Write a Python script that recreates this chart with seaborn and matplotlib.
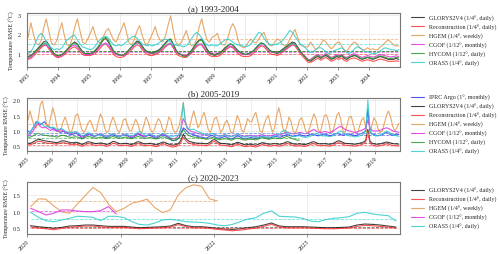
import numpy as np
import pandas as pd
import matplotlib
matplotlib.use("Agg")
import matplotlib.pyplot as plt
import matplotlib.dates as mdates
import seaborn as sns

# ---- (a) 1993-2004, monthly RMSE ----
hgem_a = [1.85, 2.6, 2.05, 1.55, 1.45, 1.65, 2.3, 2.8, 2.15, 1.55, 1.45, 1.65,
          2.15, 2.6, 1.95, 1.45, 1.4, 1.75, 2.35, 2.8, 2.2, 1.6, 1.5, 1.75,
          2.05, 2.4, 1.95, 1.6, 1.55, 1.85, 2.15, 2.3, 2.0, 1.7, 1.6, 1.95,
          2.25, 2.6, 2.1, 1.55, 1.45, 1.75, 2.15, 2.45, 1.95, 1.55, 1.45, 1.75,
          2.05, 2.4, 1.95, 1.7, 1.6, 1.9, 2.45, 2.95, 2.2, 1.6, 1.45, 1.55,
          1.85, 2.2, 1.75, 1.4, 1.4, 1.75, 2.35, 2.8, 2.2, 1.7, 1.6, 1.85,
          1.9, 2.05, 1.65, 1.45, 1.45, 1.75, 2.25, 2.55, 2.3, 1.7, 1.4, 1.3,
          1.35, 1.6, 1.75, 1.6, 1.55, 1.75, 1.95, 2.1, 1.75, 1.45, 1.4, 1.55,
          1.75, 1.7, 1.5, 1.4, 1.45, 1.75, 2.0, 2.25, 1.85, 1.45, 1.4, 1.35,
          1.35, 1.6, 1.4, 1.2, 1.3, 1.5, 1.7, 1.6, 1.4, 1.25, 1.35, 1.55,
          1.6, 1.4, 1.2, 1.1, 1.3, 1.5, 1.6, 1.5, 1.3, 1.2, 1.2, 1.3,
          1.2, 1.25, 1.2, 1.2, 1.35, 1.45, 1.6, 1.7, 1.6, 1.45, 1.4, 1.4]
oras5_a = [1.0, 1.1, 1.3, 1.6, 1.9, 2.05, 1.9, 1.6, 1.4, 1.3, 1.2, 1.25,
           1.2, 1.3, 1.5, 1.7, 1.8, 1.9, 1.95, 1.7, 1.5, 1.35, 1.3, 1.25,
           1.2, 1.25, 1.4, 1.6, 1.75, 1.85, 1.9, 1.8, 1.6, 1.45, 1.4, 1.45,
           1.4, 1.5, 1.6, 1.75, 1.85, 1.9, 1.8, 1.65, 1.5, 1.45, 1.4, 1.45,
           1.4, 1.45, 1.5, 1.6, 1.7, 1.75, 1.7, 1.6, 1.5, 1.45, 1.4, 1.4,
           1.35, 1.4, 1.55, 1.75, 1.95, 2.1, 2.0, 1.8, 1.6, 1.45, 1.4, 1.45,
           1.4, 1.4, 1.5, 1.6, 1.7, 1.75, 1.7, 1.6, 1.5, 1.45, 1.4, 1.4,
           1.35, 1.4, 1.5, 1.7, 1.9, 2.1, 2.05, 1.8, 1.6, 1.5, 1.45, 1.45,
           1.5, 1.55, 1.65, 1.8, 2.0, 2.2, 2.1, 1.9, 1.7, 1.5, 1.4, 1.3,
           1.15, 1.05, 1.1, 1.2, 1.3, 1.3, 1.2, 1.1, 1.0, 1.05, 1.15, 1.2,
           1.25, 1.3, 1.2, 1.05, 1.0, 1.1, 1.25, 1.35, 1.3, 1.2, 1.1, 1.1,
           1.05, 1.0, 1.0, 1.05, 1.15, 1.25, 1.3, 1.25, 1.2, 1.2, 1.15, 1.2]
glorys_a = [0.85, 0.9, 1.0, 1.15, 1.3, 1.45, 1.6, 1.65, 1.45, 1.2, 1.0, 0.9,
            0.9, 0.95, 1.05, 1.2, 1.35, 1.5, 1.6, 1.5, 1.3, 1.1, 1.0, 1.0,
            1.0, 1.05, 1.15, 1.3, 1.5, 1.7, 1.78, 1.6, 1.35, 1.1, 1.0, 0.95,
            0.9, 0.95, 1.05, 1.2, 1.35, 1.5, 1.65, 1.6, 1.4, 1.2, 1.1, 1.05,
            1.05, 1.1, 1.15, 1.25, 1.4, 1.55, 1.7, 1.75, 1.5, 1.2, 1.0, 0.95,
            0.9, 0.9, 1.0, 1.15, 1.35, 1.55, 1.7, 1.75, 1.5, 1.25, 1.05, 1.0,
            0.95, 1.0, 1.05, 1.15, 1.3, 1.4, 1.5, 1.45, 1.3, 1.15, 1.05, 1.0,
            0.95, 1.0, 1.05, 1.15, 1.3, 1.45, 1.55, 1.5, 1.35, 1.2, 1.1, 1.1,
            1.05, 1.1, 1.2, 1.3, 1.4, 1.5, 1.6, 1.55, 1.35, 1.15, 0.95, 0.8,
            0.65, 0.6, 0.7, 0.8, 0.85, 0.75, 0.85, 0.9, 0.8, 0.7, 0.75, 0.85,
            0.8, 0.9, 0.75, 0.7, 0.8, 0.85, 0.9, 0.85, 0.75, 0.7, 0.75, 0.8,
            0.75, 0.7, 0.75, 0.8, 0.85, 0.8, 0.75, 0.7, 0.7, 0.7, 0.75, 0.7]
recon_a = [0.7, 0.75, 0.85, 1.0, 1.15, 1.3, 1.4, 1.45, 1.25, 1.05, 0.9, 0.8,
           0.8, 0.85, 0.95, 1.05, 1.2, 1.3, 1.35, 1.25, 1.1, 0.95, 0.9, 0.9,
           0.9, 0.95, 1.0, 1.15, 1.3, 1.45, 1.5, 1.35, 1.15, 0.95, 0.85, 0.8,
           0.8, 0.85, 0.95, 1.05, 1.2, 1.35, 1.45, 1.4, 1.2, 1.05, 0.95, 0.9,
           0.9, 0.95, 1.0, 1.1, 1.2, 1.35, 1.45, 1.5, 1.3, 1.05, 0.9, 0.85,
           0.8, 0.8, 0.9, 1.0, 1.2, 1.35, 1.45, 1.45, 1.25, 1.05, 0.9, 0.85,
           0.85, 0.85, 0.9, 1.0, 1.15, 1.25, 1.35, 1.3, 1.15, 1.0, 0.9, 0.85,
           0.85, 0.85, 0.9, 1.0, 1.15, 1.3, 1.4, 1.35, 1.2, 1.05, 0.95, 0.95,
           0.9, 0.95, 1.05, 1.15, 1.25, 1.35, 1.45, 1.4, 1.2, 1.0, 0.85, 0.7,
           0.55, 0.55, 0.6, 0.7, 0.75, 0.65, 0.75, 0.8, 0.7, 0.6, 0.65, 0.75,
           0.7, 0.78, 0.65, 0.6, 0.7, 0.75, 0.78, 0.72, 0.65, 0.6, 0.65, 0.68,
           0.65, 0.6, 0.62, 0.68, 0.72, 0.68, 0.64, 0.6, 0.6, 0.6, 0.62, 0.6]
hycom_a = [0.8, 0.88, 1.0, 1.12, 1.25, 1.4, 1.5, 1.55, 1.4, 1.15, 1.0, 0.9,
           0.9, 0.95, 1.05, 1.2, 1.35, 1.5, 1.55, 1.45, 1.25, 1.1, 1.0, 1.0,
           1.0, 1.05, 1.2, 1.35, 1.55, 1.75, 1.85, 1.7, 1.4, 1.15, 1.0, 0.95,
           0.9, 0.95, 1.05, 1.2, 1.35, 1.5, 1.6, 1.55, 1.35, 1.2, 1.1, 1.05,
           1.0, 1.05, 1.1, 1.2, 1.35, 1.5, 1.65, 1.75, 1.5, 1.2, 1.0, 0.95,
           0.85, 0.85, 0.95, 1.1, 1.3, 1.5, 1.65, 1.7, 1.45, 1.2, 1.0, 0.95,
           0.9, 0.95, 1.0, 1.1, 1.25, 1.4, 1.5, 1.45, 1.3, 1.15, 1.05, 1.0,
           0.95, 1.0, 1.05, 1.15, 1.3, 1.45, 1.55, 1.5, 1.35, 1.2, 1.1, 1.05,
           1.0, 1.05, 1.15, 1.25, 1.35, 1.45, 1.55, 1.5, 1.3, 1.1, 0.95, 0.8,
           0.65, 0.65, 0.75, 0.85, 0.9, 0.8, 0.85, 0.95, 0.85, 0.75, 0.8, 0.9,
           0.85, 0.92, 0.8, 0.75, 0.82, 0.88, 0.92, 0.86, 0.78, 0.72, 0.78, 0.82,
           0.78, 0.75, 0.78, 0.84, 0.88, 0.84, 0.8, 0.75, 0.74, 0.76, 0.8, 0.78]
cgof_a = [0.75, 0.8, 0.95, 1.1, 1.25, 1.35, 1.45, 1.45, 1.3, 1.1, 0.95, 0.85,
          0.85, 0.9, 1.0, 1.15, 1.3, 1.4, 1.45, 1.35, 1.2, 1.05, 0.95, 0.95,
          0.95, 1.0, 1.1, 1.25, 1.4, 1.5, 1.55, 1.45, 1.25, 1.05, 0.95, 0.9,
          0.9, 0.9, 1.0, 1.15, 1.3, 1.45, 1.55, 1.5, 1.3, 1.15, 1.05, 1.0,
          1.0, 1.0, 1.05, 1.15, 1.25, 1.4, 1.5, 1.55, 1.35, 1.15, 1.0, 0.95,
          0.9, 0.9, 0.95, 1.05, 1.25, 1.4, 1.5, 1.5, 1.3, 1.1, 1.0, 0.95,
          0.9, 0.95, 1.0, 1.1, 1.2, 1.3, 1.4, 1.35, 1.2, 1.1, 1.0, 0.95,
          0.95, 0.95, 1.0, 1.1, 1.25, 1.4, 1.45, 1.45, 1.3, 1.15, 1.05, 1.05,
          1.0, 1.05, 1.1, 1.2, 1.3, 1.4, 1.5, 1.45, 1.3, 1.1, 0.95, 0.85,
          0.7, 0.7, 0.8, 0.9, 0.95, 0.85, 0.9, 1.0, 0.9, 0.8, 0.85, 0.95,
          0.9, 0.95, 0.85, 0.8, 0.88, 0.95, 1.0, 0.92, 0.85, 0.8, 0.85, 0.9,
          0.85, 0.82, 0.85, 0.9, 0.95, 0.92, 0.88, 0.85, 0.82, 0.85, 0.88, 0.85]

# ---- (b) 2005-2019, monthly RMSE ----
iprc_b = [1.0, 0.95, 1.05, 1.15, 1.3, 1.25, 1.2, 1.25, 1.3, 1.2, 1.15, 1.1,
          1.1, 1.05, 1.0, 0.98, 0.95, 1.0, 0.95, 0.92, 0.9, 0.88, 0.9, 0.92,
          0.9, 0.85, 0.75, 0.8, 0.85, 0.9, 0.88, 0.85, 0.82, 0.85, 0.88, 0.9,
          0.85, 0.8, 0.78, 0.82, 0.86, 0.88, 0.85, 0.82, 0.8, 0.84, 0.88, 0.86,
          0.84, 0.8, 0.78, 0.8, 0.86, 0.9, 0.88, 0.84, 0.8, 0.82, 0.86, 0.85,
          0.82, 0.78, 0.76, 0.8, 0.85, 0.88, 0.86, 0.82, 0.78, 0.72, 0.68, 0.7,
          0.72, 0.8, 0.95, 1.1, 1.05, 0.98, 0.92, 0.9, 0.88, 0.85, 0.82, 0.8,
          0.8, 0.78, 0.76, 0.8, 0.84, 0.85, 0.82, 0.78, 0.76, 0.78, 0.8, 0.82,
          0.8, 0.76, 0.74, 0.76, 0.8, 0.84, 0.82, 0.78, 0.75, 0.74, 0.76, 0.78,
          0.78, 0.76, 0.75, 0.77, 0.8, 0.82, 0.8, 0.78, 0.76, 0.78, 0.8, 0.82,
          0.82, 0.8, 0.8, 0.83, 0.86, 0.88, 0.86, 0.84, 0.82, 0.84, 0.86, 0.88,
          0.86, 0.84, 0.83, 0.85, 0.88, 0.9, 0.88, 0.86, 0.84, 0.86, 0.88, 0.9,
          0.88, 0.86, 0.85, 0.87, 0.9, 0.92, 0.9, 0.88, 0.86, 0.88, 0.9, 0.9,
          0.88, 0.86, 0.85, 0.87, 0.9, 0.92, 0.95, 1.0, 1.7, 1.0, 0.9, 0.88,
          0.86, 0.85, 0.86, 0.88, 0.92, 0.95, 0.92, 0.88, 0.86, 0.88, 0.9, 0.88]
glorys_b = [0.6, 0.6, 0.62, 0.66, 0.7, 0.72, 0.72, 0.7, 0.68, 0.67, 0.66, 0.65,
            0.64, 0.63, 0.62, 0.64, 0.67, 0.68, 0.67, 0.65, 0.63, 0.62, 0.62, 0.63,
            0.62, 0.6, 0.56, 0.58, 0.62, 0.65, 0.64, 0.62, 0.6, 0.59, 0.6, 0.61,
            0.6, 0.58, 0.56, 0.58, 0.62, 0.66, 0.65, 0.62, 0.59, 0.58, 0.59, 0.6,
            0.59, 0.57, 0.56, 0.58, 0.62, 0.65, 0.64, 0.61, 0.58, 0.58, 0.59, 0.6,
            0.58, 0.56, 0.55, 0.57, 0.61, 0.64, 0.63, 0.6, 0.57, 0.55, 0.54, 0.55,
            0.57, 0.62, 0.72, 0.9, 0.78, 0.7, 0.66, 0.64, 0.62, 0.61, 0.6, 0.6,
            0.6, 0.59, 0.58, 0.6, 0.64, 0.7, 0.72, 0.68, 0.63, 0.6, 0.59, 0.59,
            0.58, 0.56, 0.55, 0.56, 0.6, 0.63, 0.62, 0.59, 0.56, 0.55, 0.56, 0.57,
            0.56, 0.55, 0.54, 0.56, 0.59, 0.62, 0.61, 0.59, 0.57, 0.57, 0.58, 0.59,
            0.58, 0.57, 0.57, 0.59, 0.62, 0.65, 0.64, 0.61, 0.58, 0.57, 0.57, 0.58,
            0.57, 0.56, 0.56, 0.58, 0.61, 0.64, 0.65, 0.62, 0.59, 0.58, 0.58, 0.59,
            0.58, 0.57, 0.57, 0.59, 0.62, 0.66, 0.68, 0.66, 0.62, 0.6, 0.59, 0.59,
            0.58, 0.57, 0.57, 0.58, 0.6, 0.62, 0.64, 0.7, 1.05, 0.68, 0.6, 0.58,
            0.57, 0.57, 0.58, 0.6, 0.62, 0.64, 0.63, 0.61, 0.59, 0.58, 0.58, 0.57]
recon_b = [0.55, 0.55, 0.57, 0.6, 0.64, 0.66, 0.66, 0.64, 0.62, 0.61, 0.6, 0.6,
           0.59, 0.58, 0.57, 0.59, 0.61, 0.62, 0.61, 0.59, 0.57, 0.56, 0.56, 0.57,
           0.56, 0.54, 0.5, 0.52, 0.56, 0.59, 0.58, 0.56, 0.54, 0.53, 0.54, 0.55,
           0.54, 0.52, 0.5, 0.52, 0.56, 0.6, 0.59, 0.56, 0.53, 0.52, 0.53, 0.54,
           0.53, 0.51, 0.5, 0.52, 0.56, 0.59, 0.58, 0.55, 0.52, 0.52, 0.53, 0.54,
           0.52, 0.5, 0.49, 0.51, 0.55, 0.58, 0.57, 0.54, 0.51, 0.49, 0.48, 0.49,
           0.51, 0.56, 0.65, 0.8, 0.7, 0.63, 0.6, 0.58, 0.56, 0.55, 0.54, 0.54,
           0.54, 0.53, 0.52, 0.54, 0.58, 0.64, 0.66, 0.62, 0.57, 0.54, 0.53, 0.53,
           0.52, 0.5, 0.49, 0.5, 0.54, 0.57, 0.56, 0.53, 0.5, 0.49, 0.5, 0.51,
           0.5, 0.49, 0.48, 0.5, 0.53, 0.56, 0.55, 0.53, 0.51, 0.51, 0.52, 0.53,
           0.52, 0.51, 0.51, 0.53, 0.56, 0.59, 0.58, 0.55, 0.52, 0.51, 0.51, 0.52,
           0.51, 0.5, 0.5, 0.52, 0.55, 0.58, 0.59, 0.56, 0.53, 0.52, 0.52, 0.53,
           0.52, 0.51, 0.51, 0.53, 0.56, 0.6, 0.62, 0.6, 0.56, 0.54, 0.53, 0.53,
           0.52, 0.51, 0.51, 0.52, 0.54, 0.56, 0.58, 0.64, 0.95, 0.62, 0.54, 0.52,
           0.51, 0.51, 0.52, 0.54, 0.56, 0.58, 0.57, 0.55, 0.53, 0.52, 0.52, 0.51]
hgem_b = [1.35, 1.65, 1.4, 1.15, 1.1, 1.4, 1.85, 1.97, 1.6, 1.2, 1.15, 1.45,
          1.75, 1.5, 1.15, 0.95, 1.05, 1.3, 1.45, 1.25, 1.0, 0.95, 1.2, 1.5,
          1.55, 1.3, 1.05, 0.95, 1.05, 1.25, 1.35, 1.2, 1.0, 1.0, 1.3, 1.55,
          1.4, 1.1, 0.95, 1.0, 1.25, 1.45, 1.3, 1.05, 0.95, 1.1, 1.35, 1.4,
          1.2, 1.0, 1.0, 1.2, 1.38, 1.25, 1.0, 0.95, 1.2, 1.45, 1.3, 1.05,
          0.95, 1.05, 1.25, 1.4, 1.3, 1.05, 0.95, 1.15, 1.45, 1.35, 1.05, 0.95,
          1.0, 1.2, 1.5, 1.9, 1.35, 1.05, 1.1, 1.4, 1.65, 1.4, 1.1, 1.2,
          1.45, 1.6, 1.35, 1.05, 0.95, 1.15, 1.4, 1.45, 1.2, 0.95, 1.05, 1.25,
          1.35, 1.15, 0.95, 0.95, 1.2, 1.5, 1.35, 1.05, 0.95, 1.15, 1.4, 1.3,
          1.3, 1.5, 1.6, 1.3, 1.0, 0.95, 1.2, 1.4, 1.5, 1.2, 0.95, 1.1,
          1.5, 1.75, 1.5, 1.1, 0.95, 1.15, 1.45, 1.3, 1.0, 0.92, 1.1, 1.35,
          1.43, 1.25, 1.0, 0.92, 1.1, 1.35, 1.55, 1.4, 1.05, 0.95, 1.2, 1.5,
          1.52, 1.3, 1.0, 0.95, 1.2, 1.5, 1.6, 1.35, 1.0, 0.95, 1.2, 1.45,
          1.47, 1.2, 0.95, 0.9, 1.15, 1.35, 1.43, 1.1, 0.85, 0.95, 1.2, 1.43,
          1.3, 1.05, 0.95, 1.0, 1.25, 1.5, 1.65, 1.45, 1.15, 1.0, 1.1, 1.25]
cgof_b = [0.85, 0.88, 0.95, 1.05, 1.18, 1.22, 1.15, 1.1, 1.12, 1.1, 1.05, 1.02,
          1.05, 1.02, 1.0, 1.02, 1.05, 1.0, 0.97, 0.95, 0.93, 0.92, 0.94, 0.96,
          0.93, 0.88, 0.8, 0.83, 0.88, 0.92, 0.9, 0.87, 0.85, 0.86, 0.88, 0.9,
          0.88, 0.85, 0.83, 0.85, 0.88, 0.9, 0.88, 0.85, 0.83, 0.85, 0.87, 0.88,
          0.86, 0.83, 0.82, 0.84, 0.88, 0.92, 0.9, 0.86, 0.83, 0.84, 0.87, 0.88,
          0.85, 0.82, 0.8, 0.83, 0.87, 0.9, 0.88, 0.84, 0.8, 0.76, 0.74, 0.76,
          0.8, 0.9, 1.1, 1.4, 1.25, 1.1, 1.02, 0.98, 0.96, 0.94, 0.92, 0.9,
          0.9, 0.88, 0.86, 0.87, 0.9, 0.92, 0.9, 0.86, 0.84, 0.84, 0.86, 0.88,
          0.86, 0.84, 0.82, 0.84, 0.87, 0.9, 0.88, 0.85, 0.83, 0.82, 0.84, 0.86,
          0.85, 0.83, 0.82, 0.84, 0.86, 0.88, 0.86, 0.84, 0.83, 0.84, 0.86, 0.88,
          0.88, 0.87, 0.88, 0.91, 0.94, 0.96, 0.94, 0.92, 0.9, 0.91, 0.93, 0.95,
          0.94, 0.92, 0.91, 0.93, 0.97, 1.02, 1.05, 1.0, 0.96, 0.95, 0.96, 0.98,
          0.97, 0.95, 0.95, 0.98, 1.03, 1.08, 1.12, 1.15, 1.1, 1.05, 1.02, 1.0,
          0.98, 0.96, 0.95, 0.97, 1.0, 1.02, 1.05, 1.1, 1.35, 1.1, 1.02, 1.0,
          1.0, 1.0, 1.02, 1.05, 1.08, 1.1, 1.08, 1.04, 1.0, 0.98, 0.97, 0.95]
hycom_b = [0.8, 0.8, 0.82, 0.86, 0.9, 0.92, 0.9, 0.87, 0.86, 0.85, 0.84, 0.83,
           0.83, 0.82, 0.8, 0.82, 0.85, 0.86, 0.84, 0.82, 0.8, 0.79, 0.8, 0.81,
           0.8, 0.78, 0.74, 0.76, 0.8, 0.82, 0.81, 0.79, 0.77, 0.77, 0.78, 0.8,
           0.79, 0.77, 0.75, 0.77, 0.8, 0.82, 0.8, 0.78, 0.76, 0.77, 0.79, 0.8,
           0.78, 0.76, 0.75, 0.77, 0.8, 0.82, 0.81, 0.78, 0.76, 0.76, 0.78, 0.79,
           0.77, 0.75, 0.74, 0.76, 0.79, 0.81, 0.8, 0.77, 0.74, 0.71, 0.69, 0.7,
           0.72, 0.78, 0.9, 1.05, 0.95, 0.88, 0.84, 0.82, 0.8, 0.79, 0.78, 0.77,
           0.76, 0.75, 0.73, 0.74, 0.77, 0.79, 0.77, 0.74, 0.72, 0.72, 0.74, 0.75,
           0.74, 0.72, 0.7, 0.72, 0.75, 0.77, 0.76, 0.73, 0.71, 0.7, 0.72, 0.73,
           0.73, 0.72, 0.71, 0.73, 0.76, 0.78, 0.77, 0.75, 0.73, 0.74, 0.76, 0.77,
           0.76, 0.75, 0.75, 0.77, 0.8, 0.82, 0.8, 0.77, 0.74, 0.72, 0.7, 0.7]
oras5_b = [0.9, 0.95, 1.05, 1.15, 1.25, 1.3, 1.25, 1.2, 1.15, 1.15, 1.12, 1.1,
           1.12, 1.1, 1.05, 1.05, 1.08, 1.05, 1.0, 0.97, 0.95, 0.95, 0.96, 0.98,
           0.95, 0.9, 0.85, 0.86, 0.9, 0.94, 0.92, 0.88, 0.85, 0.84, 0.86, 0.88,
           0.88, 0.85, 0.82, 0.84, 0.88, 0.9, 0.88, 0.84, 0.82, 0.84, 0.86, 0.88,
           0.88, 0.85, 0.84, 0.86, 0.9, 0.95, 0.98, 0.93, 0.88, 0.85, 0.87, 0.9,
           0.88, 0.84, 0.82, 0.84, 0.88, 0.92, 0.9, 0.86, 0.83, 0.8, 0.82, 0.85,
           0.84, 0.9, 1.15, 1.93, 1.25, 1.1, 1.05, 1.05, 1.06, 1.02, 0.98, 0.95,
           0.93, 0.9, 0.88, 0.87, 0.9, 0.92, 0.88, 0.85, 0.83, 0.83, 0.85, 0.87,
           0.85, 0.83, 0.81, 0.83, 0.86, 0.88, 0.85, 0.83, 0.81, 0.8, 0.82, 0.84,
           0.82, 0.8, 0.79, 0.8, 0.82, 0.84, 0.82, 0.8, 0.79, 0.8, 0.82, 0.84,
           0.84, 0.87, 0.93, 1.0, 1.02, 0.96, 0.9, 0.85, 0.82, 0.82, 0.84, 0.84,
           0.82, 0.8, 0.79, 0.8, 0.82, 0.85, 0.88, 0.92, 0.9, 0.86, 0.84, 0.84,
           0.84, 0.82, 0.82, 0.84, 0.88, 0.92, 0.97, 1.0, 0.95, 0.9, 0.86, 0.84,
           0.84, 0.82, 0.81, 0.82, 0.84, 0.86, 0.9, 1.05, 2.0, 1.05, 0.9, 0.86,
           0.84, 0.84, 0.86, 0.9, 0.95, 1.0, 0.97, 0.92, 0.87, 0.85, 0.84, 0.82]

# ---- (c) 2020-2023, monthly RMSE ----
glorys_c = [0.58, 0.55, 0.53, 0.5, 0.53, 0.57, 0.58, 0.6, 0.6, 0.58, 0.56, 0.56,
            0.56, 0.54, 0.52, 0.53, 0.54, 0.55, 0.57, 0.65, 0.58, 0.55, 0.55, 0.53,
            0.5, 0.48, 0.47, 0.49, 0.52, 0.55, 0.6, 0.66, 0.57, 0.55, 0.55, 0.55,
            0.54, 0.53, 0.52, 0.52, 0.53, 0.54, 0.6, 0.63, 0.62, 0.6, 0.57, 0.54]
recon_c = [0.55, 0.51, 0.49, 0.46, 0.5, 0.54, 0.55, 0.57, 0.57, 0.55, 0.53, 0.53,
           0.53, 0.51, 0.49, 0.5, 0.51, 0.52, 0.54, 0.61, 0.55, 0.52, 0.52, 0.5,
           0.47, 0.45, 0.43, 0.45, 0.48, 0.51, 0.56, 0.62, 0.54, 0.52, 0.52, 0.52,
           0.51, 0.5, 0.49, 0.49, 0.5, 0.51, 0.56, 0.59, 0.58, 0.56, 0.54, 0.51]
hgem_c = [1.15, 1.38, 1.37, 1.17, 1.0, 0.95, 1.22, 1.47, 1.72, 1.57, 1.22, 1.0,
          1.1, 1.25, 1.3, 1.37, 1.12, 0.97, 1.05, 1.5, 1.72, 1.8, 1.75, 1.38,
          1.32]
cgof_c = [1.1, 1.0, 0.9, 0.95, 1.05, 1.05, 1.02, 1.0, 1.0, 1.03, 1.15, 0.93]
oras5_c = [0.98, 0.83, 0.73, 0.7, 0.75, 0.8, 0.86, 0.85, 0.83, 0.73, 0.86, 0.86,
           0.82, 0.7, 0.62, 0.6, 0.66, 0.75, 0.77, 0.74, 0.7, 0.69, 0.68, 0.65,
           0.6, 0.58, 0.62, 0.7, 0.78, 0.82, 0.95, 1.02, 0.86, 0.85, 0.84, 0.8,
           0.72, 0.7, 0.76, 0.8, 0.82, 0.85, 0.95, 0.98, 0.93, 0.9, 0.88, 0.72]

colors = {"iprc": "#3535f0", "glorys": "#222222", "recon": "#ff3535",
          "hgem": "#e3984f", "cgof": "#e030e0", "hycom": "#2a9a2a",
          "oras5": "#30cccc"}
labels = {"iprc": "IPRC Argo (1°, monthly)",
          "glorys": "GLORYS2V4 (1/4°, daily)",
          "recon": "Reconstruction (1/4°, daily)",
          "hgem": "HGEM (1/4°, weekly)",
          "cgof": "CGOF (1/12°, monthly)",
          "hycom": "HYCOM (1/12°, daily)",
          "oras5": "ORAS5 (1/4°, daily)"}

sns.set_style("whitegrid")
plt.rcParams["font.family"] = ["Liberation Serif", "DejaVu Serif"]


def monthly(start, n):
    return pd.date_range(start, periods=n, freq="MS") + pd.Timedelta(days=14)


def draw_panel(ax, series, start, title, x0, x1, ylim, yticks, yfmt):
    for key, vals in series:
        dates = monthly(start, len(vals))
        sns.lineplot(x=dates, y=vals, ax=ax, color=colors[key], lw=0.8,
                     alpha=0.85, label=labels[key])
        ax.hlines(np.mean(vals), dates[0], dates[-1], colors=colors[key],
                  linestyles="--", lw=0.6, alpha=0.65)
    ax.set_xlim(pd.Timestamp(x0), pd.Timestamp(x1))
    ax.set_ylim(*ylim)
    ax.set_yticks(yticks)
    ax.set_yticklabels([yfmt.format(t) for t in yticks])
    ax.xaxis.set_major_locator(mdates.YearLocator())
    ax.xaxis.set_major_formatter(mdates.DateFormatter("%Y"))
    for lab in ax.get_xticklabels():
        lab.set_rotation(45)
        lab.set_ha("right")
        lab.set_rotation_mode("anchor")
    ax.tick_params(axis="x", labelsize=4.5, bottom=True, length=2, width=0.5,
                   pad=1, color="#666666")
    ax.tick_params(axis="y", labelsize=4.5, pad=1)
    ax.set_ylabel("Temperature RMSE (°C)", fontsize=4.2, labelpad=2)
    ax.set_xlabel("")
    ax.set_title(title, fontsize=6.5, pad=2, loc="center")
    ax.grid(True, color="#e6e6e6", lw=0.5)
    for sp in ax.spines.values():
        sp.set_color("#777777")
        sp.set_linewidth(0.8)
    ax.legend(loc="center left", bbox_to_anchor=(1.015, 0.5), frameon=False,
              fontsize=4.3, handlelength=2.2, labelspacing=0.5,
              handletextpad=0.9)


fig = plt.figure(figsize=(5, 2.55), dpi=100)
ax_a = fig.add_axes([0.054, 0.733, 0.746, 0.212])
ax_b = fig.add_axes([0.054, 0.404, 0.746, 0.208])
ax_c = fig.add_axes([0.054, 0.078, 0.746, 0.204])

draw_panel(ax_a, [("glorys", glorys_a), ("recon", recon_a), ("hgem", hgem_a),
                  ("cgof", cgof_a), ("hycom", hycom_a), ("oras5", oras5_a)],
           "1993-01-01", "(a) 1993-2004", "1993-01-01", "2004-12-31",
           (0.3, 3.1), [1, 2, 3], "{:.0f}")
draw_panel(ax_b, [("iprc", iprc_b), ("glorys", glorys_b), ("recon", recon_b),
                  ("hgem", hgem_b), ("cgof", cgof_b), ("hycom", hycom_b),
                  ("oras5", oras5_b)],
           "2005-01-01", "(b) 2005-2019", "2005-01-01", "2019-12-31",
           (0.35, 2.07), [0.5, 1.0, 1.5, 2.0], "{:.1f}")
draw_panel(ax_c, [("glorys", glorys_c), ("recon", recon_c), ("hgem", hgem_c),
                  ("cgof", cgof_c), ("oras5", oras5_c)],
           "2020-01-01", "(c) 2020-2023", "2020-01-01", "2023-12-31",
           (0.33, 1.88), [0.5, 1.0, 1.5], "{:.1f}")

fig.savefig("out.png", dpi=100)
